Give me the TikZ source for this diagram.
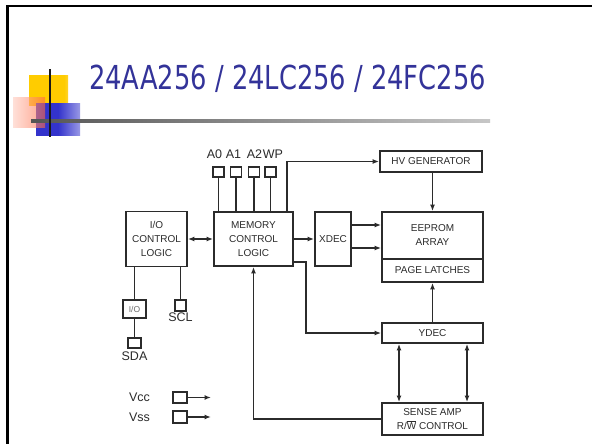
\documentclass[tikz,border=0pt]{standalone}
\usepackage{fontspec}
\usepackage{graphicx}
\setmainfont{Liberation Sans}
\newfontfamily\titlefont{DejaVu Sans}
\usetikzlibrary{arrows.meta}
\definecolor{titleblue}{HTML}{333399}
\definecolor{ink}{HTML}{2B2B2B}
\definecolor{ylw}{HTML}{FFCC00}
\definecolor{rd}{HTML}{FF3300}
\definecolor{blu}{HTML}{3333CC}
\pgfdeclarehorizontalshading{yfade}{100bp}{color(0bp)=(ylw); color(70bp)=(ylw); color(100bp)=(white)}
\pgfdeclarehorizontalshading{bfade}{100bp}{color(0bp)=(blu); color(50bp)=(blu); color(100bp)=(white)}
\pgfdeclarehorizontalshading{rfade}{100bp}{color(0bp)=(white); color(100bp)=(rd)}
\pgfdeclarehorizontalshading{lfade}{100bp}{color(0bp)=(black!85); color(10bp)=(black!80); color(100bp)=(white)}
\begin{document}
\begin{tikzpicture}[x=1pt,y=-1pt,
  box/.style={draw=ink, line width=1.8pt, fill=white, rectangle, inner sep=0pt, align=center,
    font=\fontsize{10}{14}\selectfont, text=ink},
  pinbox/.style={draw=ink, line width=1.7pt, inner sep=0pt, rectangle},
  conn/.style={draw=ink, line width=1.8pt},
  arr/.style={conn, -{Latex[length=6.5pt,width=5pt]}},
  darr/.style={conn, {Latex[length=6.5pt,width=5pt]}-{Latex[length=6.5pt,width=5pt]}},
  lab/.style={text=ink, font=\fontsize{12.5}{12.5}\selectfont, inner sep=0pt}]
\useasboundingbox (0,0) rectangle (592,444);
\fill[white] (0,0) rectangle (592,444);
% slide frame
\draw[line width=2.5pt, black] (7.5,446) -- (7.5,6) -- (594,6);
% title decoration
\shade[shading=yfade] (29,76) rectangle (68,105);
\shade[shading=bfade] (36,103) rectangle (80,135);
\shade[shading=rfade, opacity=0.6] (13,98) rectangle (45,127);
\shade[shading=lfade] (31,119.8) rectangle (490,122.3);
\fill[black!90] (48.8,69) rectangle (51.3,137);
% title
\node[anchor=base west, inner sep=0pt, text=titleblue] (title) at (89,89)
  {\scalebox{0.78}[1]{\titlefont\fontsize{33}{33}\selectfont 24AA256 / 24LC256 / 24FC256}};
% blocks
\node[box, minimum width=61pt, minimum height=55pt] (io) at (156.5,239) {I/O\\CONTROL\\LOGIC};
\node[box, minimum width=79pt, minimum height=54pt] (mem) at (253.5,239) {MEMORY\\CONTROL\\LOGIC};
\node[box, minimum width=36pt, minimum height=54pt] (xdec) at (333,239) {XDEC};
\node[box, minimum width=102pt, minimum height=21pt] (hv) at (431,161.5) {HV GENERATOR};
\node[box, minimum width=101pt, minimum height=47pt] (eep) at (432.5,235.5) {EEPROM\\ARRAY};
\node[box, minimum width=101pt, minimum height=23pt] (pl) at (432.5,270.5) {PAGE LATCHES};
\node[box, minimum width=101pt, minimum height=20pt] (ydec) at (432.5,333) {YDEC};
\node[box, minimum width=101pt, minimum height=32pt] (sense) at (432.5,419) {SENSE AMP\\R/$\overline{\hbox{W}}$ CONTROL};
% pins
\node[pinbox, minimum width=11pt, minimum height=10pt] (a0) at (218.5,172) {};
\node[pinbox, minimum width=11pt, minimum height=10pt] (a1) at (236,172) {};
\node[pinbox, minimum width=11pt, minimum height=10pt] (a2) at (254,172) {};
\node[pinbox, minimum width=11pt, minimum height=10pt] (wp) at (270.5,172) {};
\node[lab, anchor=base] (la0) at (214.5,158) {A0};
\node[lab, anchor=base] (la1) at (233.5,158) {A1};
\node[lab, anchor=base] (la2) at (254.5,158) {A2};
\node[lab, anchor=base] (lwp) at (273,158) {WP};
\node[pinbox, minimum width=23pt, minimum height=18pt, text=ink!70, font=\fontsize{8.5}{8.5}\selectfont] (iosm) at (134.5,309) {I/O};
\node[pinbox, minimum width=13pt, minimum height=10pt] (sda) at (134.5,343) {};
\node[lab, anchor=base] (lsda) at (134.5,360) {SDA};
\node[pinbox, minimum width=11pt, minimum height=11pt] (scl) at (180.5,305.5) {};
\node[lab, anchor=base] (lscl) at (180.5,321.5) {SCL};
\node[pinbox, minimum width=14pt, minimum height=11pt] (vcc) at (180,397.5) {};
\node[pinbox, minimum width=14pt, minimum height=12pt] (vss) at (180,417) {};
\node[lab, anchor=base] (lvcc) at (139.5,401.5) {Vcc};
\node[lab, anchor=base] (lvss) at (139.5,421.5) {Vss};
\coordinate (vcce) at (211,397.5);
\coordinate (vsse) at (211,417);
% connectors
\draw[darr] (io.east) -- (mem.west);
\draw[arr] (mem.east) -- (xdec.west);
\coordinate (xo1) at ([yshift=14pt]xdec.east);
\coordinate (xo2) at ([yshift=-9pt]xdec.east);
\draw[arr] (xo1) -- (xo1 -| eep.west);
\draw[arr] (xo2) -- (xo2 -| eep.west);
\coordinate (wp1) at ([xshift=33.5pt]mem.north);
\draw[arr] (wp1) |- (hv.west);
\draw[arr] (eep.north |- hv.south) -- (eep.north);
\coordinate (m1) at ([yshift=-23pt]mem.east);
\coordinate (m2) at (306,262);
\draw[arr] (m1) -- (m2) |- (ydec.west);
\draw[arr] (ydec.north) -- (pl.south);
\coordinate (d1) at ([xshift=-33.5pt]ydec.south);
\coordinate (d2) at ([xshift=34.5pt]ydec.south);
\draw[darr] (d1) -- (d1 |- sense.north);
\draw[darr] (d2) -- (d2 |- sense.north);
\draw[arr] (sense.west) -| (mem.south);
\foreach \p in {a0,a1,a2,wp} \draw[conn] (\p.south) -- (\p.south |- mem.north);
\draw[conn] (iosm.north |- io.south) -- (iosm.north);
\draw[conn] (iosm.south) -- (sda.north);
\draw[conn] (scl.north |- io.south) -- (scl.north);
\draw[arr] (vcc.east) -- (vcce);
\draw[arr] (vss.east) -- (vsse);
\end{tikzpicture}
\end{document}
